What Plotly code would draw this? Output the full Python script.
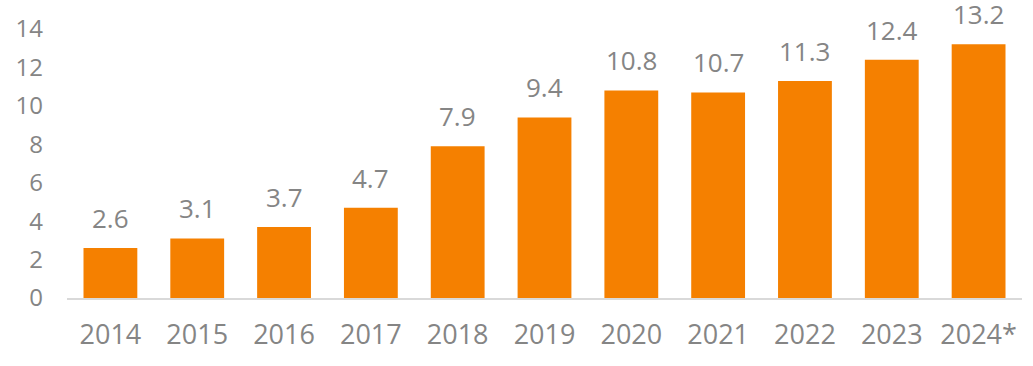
import plotly.graph_objects as go

years = ["2014", "2015", "2016", "2017", "2018", "2019", "2020", "2021", "2022", "2023", "2024*"]
values = [2.6, 3.1, 3.7, 4.7, 7.9, 9.4, 10.8, 10.7, 11.3, 12.4, 13.2]
y_ticks = [0, 2, 4, 6, 8, 10, 12, 14]

BAR = "#F58000"
GRAY = "#858585"
FONT = "Open Sans"

fig = go.Figure()
fig.add_trace(go.Bar(x=years, y=values, marker=dict(color=BAR, line=dict(width=0)), width=0.62,
                     hoverinfo="skip"))

for i, v in enumerate(values):
    fig.add_annotation(x=i, y=v, xref="x", yref="y", text=f"{v:.1f}", showarrow=False,
                       yanchor="bottom", yshift=11, borderpad=0,
                       font=dict(family=FONT, size=26, color=GRAY))

fig.update_layout(
    width=1033, height=366,
    margin=dict(l=67, r=11, t=29, b=68),
    paper_bgcolor="white", plot_bgcolor="white",
    showlegend=False,
)
fig.update_xaxes(type="category", range=[-0.5, len(years) - 0.5], showline=True,
                 linecolor="#D9D9D9", linewidth=2, showgrid=False,
                 ticks="", tickfont=dict(family=FONT, size=27, color=GRAY), ticklabelstandoff=12)
fig.update_yaxes(range=[0, 14], tickvals=y_ticks, showgrid=False, zeroline=False, showline=False,
                 ticks="", tickfont=dict(family=FONT, size=24, color=GRAY), ticklabelstandoff=23)

fig.write_html("out.html", config={"displayModeBar": False})

with open("out.html", "r", encoding="utf-8") as f:
    html = f.read()
html = html.replace("<head>", "<head><style>html,body{margin:0;padding:0;overflow:hidden;}</style>", 1)
with open("out.html", "w", encoding="utf-8") as f:
    f.write(html)
